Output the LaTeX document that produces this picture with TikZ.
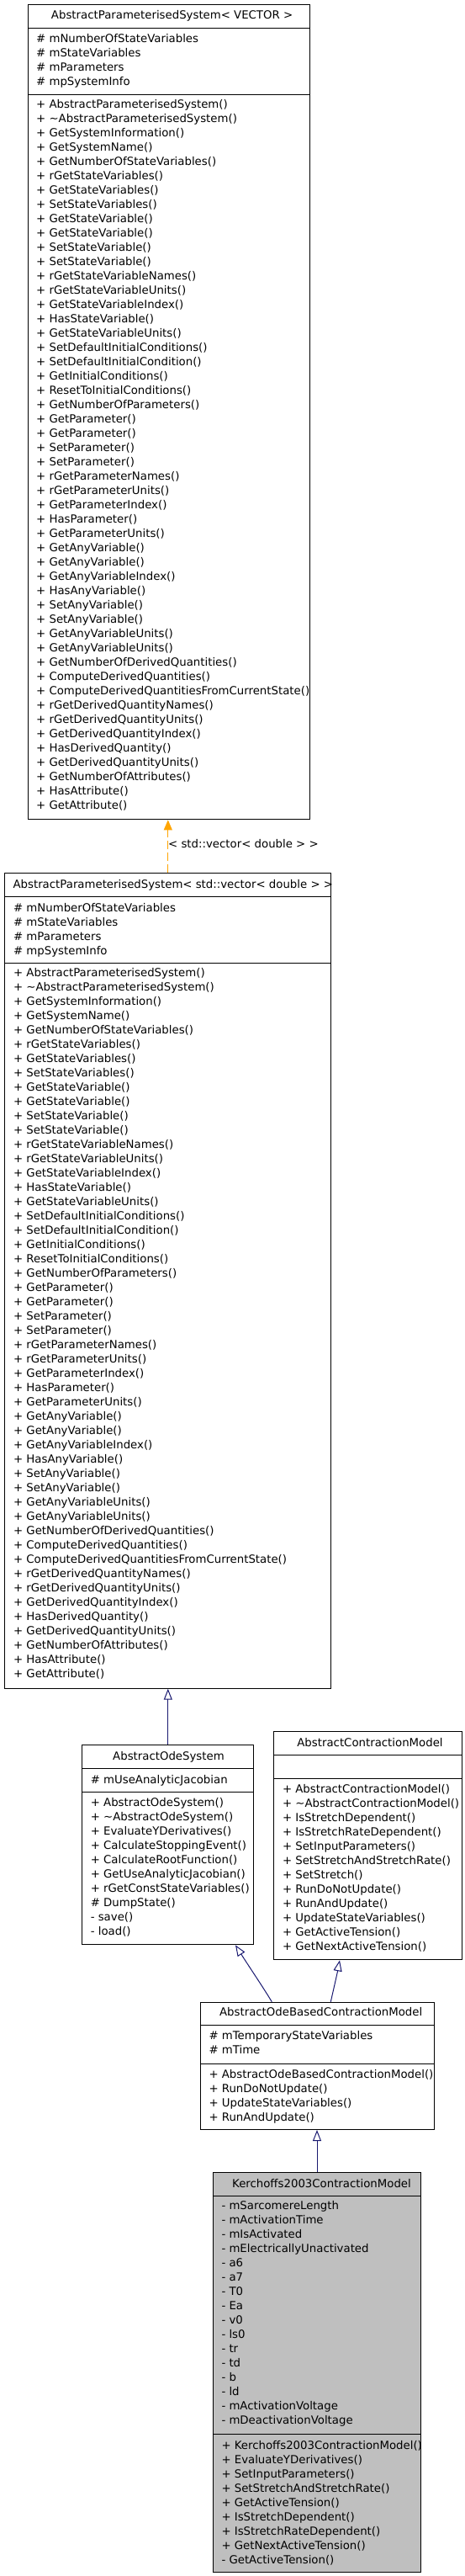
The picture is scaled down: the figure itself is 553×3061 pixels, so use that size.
\documentclass[tikz,border=0pt]{standalone}
\usepackage{fontspec}
\setmainfont{DejaVu Sans}
\usetikzlibrary{arrows.meta,calc}
\definecolor{inhblue}{RGB}{25,25,112}
\definecolor{tmplorange}{RGB}{255,165,0}
\definecolor{leafgray}{RGB}{191,191,191}
\newcommand{\umlfont}{\fontsize{13.3}{17}\selectfont}
\def\apsattrs{\# mNumberOfStateVariables,\# mStateVariables,\# mParameters,\# mpSystemInfo}
\def\apsmethods{+ AbstractParameterisedSystem(),+ \textasciitilde AbstractParameterisedSystem(),+ GetSystemInformation(),+ GetSystemName(),+ GetNumberOfStateVariables(),+ rGetStateVariables(),+ GetStateVariables(),+ SetStateVariables(),+ GetStateVariable(),+ GetStateVariable(),+ SetStateVariable(),+ SetStateVariable(),+ rGetStateVariableNames(),+ rGetStateVariableUnits(),+ GetStateVariableIndex(),+ HasStateVariable(),+ GetStateVariableUnits(),+ SetDefaultInitialConditions(),+ SetDefaultInitialCondition(),+ GetInitialConditions(),+ ResetToInitialConditions(),+ GetNumberOfParameters(),+ GetParameter(),+ GetParameter(),+ SetParameter(),+ SetParameter(),+ rGetParameterNames(),+ rGetParameterUnits(),+ GetParameterIndex(),+ HasParameter(),+ GetParameterUnits(),+ GetAnyVariable(),+ GetAnyVariable(),+ GetAnyVariableIndex(),+ HasAnyVariable(),+ SetAnyVariable(),+ SetAnyVariable(),+ GetAnyVariableUnits(),+ GetAnyVariableUnits(),+ GetNumberOfDerivedQuantities(),+ ComputeDerivedQuantities(),+ ComputeDerivedQuantitiesFromCurrentState(),+ rGetDerivedQuantityNames(),+ rGetDerivedQuantityUnits(),+ GetDerivedQuantityIndex(),+ HasDerivedQuantity(),+ GetDerivedQuantityUnits(),+ GetNumberOfAttributes(),+ HasAttribute(),+ GetAttribute()}
\def\aosmethods{+ AbstractOdeSystem(),+ \textasciitilde AbstractOdeSystem(),+ EvaluateYDerivatives(),+ CalculateStoppingEvent(),+ CalculateRootFunction(),+ GetUseAnalyticJacobian(),+ rGetConstStateVariables(),\# DumpState(),- save(),- load()}
\def\acmmethods{+ AbstractContractionModel(),+ \textasciitilde AbstractContractionModel(),+ IsStretchDependent(),+ IsStretchRateDependent(),+ SetInputParameters(),+ SetStretchAndStretchRate(),+ SetStretch(),+ RunDoNotUpdate(),+ RunAndUpdate(),+ UpdateStateVariables(),+ GetActiveTension(),+ GetNextActiveTension()}
\def\obcmattrs{\# mTemporaryStateVariables,\# mTime}
\def\obcmmethods{+ AbstractOdeBasedContractionModel(),+ RunDoNotUpdate(),+ UpdateStateVariables(),+ RunAndUpdate()}
\def\kattrs{- mSarcomereLength,- mActivationTime,- mIsActivated,- mElectricallyUnactivated,- a6,- a7,- T0,- Ea,- v0,- ls0,- tr,- td,- b,- ld,- mActivationVoltage,- mDeactivationVoltage}
\def\kmethods{+ Kerchoffs2003ContractionModel(),+ EvaluateYDerivatives(),+ SetInputParameters(),+ SetStretchAndStretchRate(),+ GetActiveTension(),+ IsStretchDependent(),+ IsStretchRateDependent(),+ GetNextActiveTension(),- GetActiveTension()}
\begin{document}
\begin{tikzpicture}[x=1pt,y=-1pt,
  boxframe/.style={draw=black, line width=1pt, inner sep=0pt, anchor=north west},
  txt/.style={anchor=base west, inner sep=0pt, font=\umlfont},
  ttl/.style={anchor=base, inner sep=0pt, font=\umlfont},
  sepline/.style={draw=black, line width=1pt},
  inh/.style={draw=inhblue, line width=1pt, -{Triangle[open, length=13pt, width=10pt]}},
  tmpl/.style={draw=tmplorange, line width=1pt, dash pattern=on 10pt off 4pt, -{Triangle[length=12pt, width=10pt, fill=tmplorange]}}]
\useasboundingbox (0,0) rectangle (553,3061);

% ---- AbstractParameterisedSystem< VECTOR >
\node[boxframe, minimum width=335pt, minimum height=968pt] (aps) at (32.5,5.3) {};
\draw[sepline] ([yshift=-28pt]aps.north west) -- ([yshift=-28pt]aps.north east);
\draw[sepline] ([yshift=-107.4pt]aps.north west) -- ([yshift=-107.4pt]aps.north east);
\node[ttl] (apsT) at (204.6,22.5) {AbstractParameterisedSystem< VECTOR >};
\foreach \t [count=\i from 0] in \apsattrs {\node[txt] (apsA\i) at (43,50.5+17*\i) {\t};}
\foreach \t [count=\i from 0] in \apsmethods {\node[txt] (apsM\i) at (43,128.6+17*\i) {\t};}

% ---- AbstractParameterisedSystem< std::vector< double > >
\node[boxframe, minimum width=388pt, minimum height=968.4pt] (aps2) at (5.3,1037.3) {};
\draw[sepline] ([yshift=-28pt]aps2.north west) -- ([yshift=-28pt]aps2.north east);
\draw[sepline] ([yshift=-107pt]aps2.north west) -- ([yshift=-107pt]aps2.north east);
\node[ttl] (aps2T) at (205.8,1055) {AbstractParameterisedSystem< std::vector< double > >};
\foreach \t [count=\i from 0] in \apsattrs {\node[txt] (aps2A\i) at (15.9,1083+17*\i) {\t};}
\foreach \t [count=\i from 0] in \apsmethods {\node[txt] (aps2M\i) at (15.9,1160.6+17*\i) {\t};}

% ---- AbstractOdeSystem
\node[boxframe, minimum width=203.8pt, minimum height=237pt] (aos) at (97.4,2073.3) {};
\draw[sepline] ([yshift=-28pt]aos.north west) -- ([yshift=-28pt]aos.north east);
\draw[sepline] ([yshift=-56pt]aos.north west) -- ([yshift=-56pt]aos.north east);
\node[ttl] (aosT) at (200.5,2091) {AbstractOdeSystem};
\node[txt] (aosA0) at (107.6,2119) {\# mUseAnalyticJacobian};
\foreach \t [count=\i from 0] in \aosmethods {\node[txt] (aosM\i) at (107.6,2146.6+17*\i) {\t};}

% ---- AbstractContractionModel
\node[boxframe, minimum width=224pt, minimum height=271pt] (acm) at (324.5,2057.3) {};
\draw[sepline] ([yshift=-28pt]acm.north west) -- ([yshift=-28pt]acm.north east);
\draw[sepline] ([yshift=-56pt]acm.north west) -- ([yshift=-56pt]acm.north east);
\node[ttl] (acmT) at (440,2075) {AbstractContractionModel};
\foreach \t [count=\i from 0] in \acmmethods {\node[txt] (acmM\i) at (335.8,2130.6+17*\i) {\t};}

% ---- AbstractOdeBasedContractionModel
\node[boxframe, minimum width=278.3pt, minimum height=151.3pt] (obcm) at (237.7,2378.7) {};
\draw[sepline] ([yshift=-28pt]obcm.north west) -- ([yshift=-28pt]obcm.north east);
\draw[sepline] ([yshift=-74pt]obcm.north west) -- ([yshift=-74pt]obcm.north east);
\node[ttl] (obcmT) at (381.7,2395.3) {AbstractOdeBasedContractionModel};
\foreach \t [count=\i from 0] in \obcmattrs {\node[txt] (obcmA\i) at (248.3,2423.3+17*\i) {\t};}
\foreach \t [count=\i from 0] in \obcmmethods {\node[txt] (obcmM\i) at (248.3,2469.3+17.2*\i) {\t};}

% ---- Kerchoffs2003ContractionModel
\node[boxframe, fill=leafgray, minimum width=247.6pt, minimum height=474.7pt] (k) at (252.7,2581.3) {};
\draw[sepline] ([yshift=-28pt]k.north west) -- ([yshift=-28pt]k.north east);
\draw[sepline] ([yshift=-311pt]k.north west) -- ([yshift=-311pt]k.north east);
\node[ttl] (kT) at (382.5,2599) {Kerchoffs2003ContractionModel};
\foreach \t [count=\i from 0] in \kattrs {\node[txt] (kA\i) at (263.3,2625.6+17*\i) {\t};}
\foreach \t [count=\i from 0] in \kmethods {\node[txt] (kM\i) at (263.3,2910+17*\i) {\t};}

% ---- connectors
\draw[tmpl] (aps2.north) -- (aps2.north |- aps.south);
\node[txt] (tmplLbl) at (200,1007.6) {< std::vector< double > >};
\draw[inh] (aos.north) -- (aos.north |- aps2.south);
\draw[inh] ([xshift=85.6pt]obcm.north west) .. controls (312,2360) and (295,2335) .. ([xshift=182.6pt]aos.south west);
\draw[inh] ([xshift=155.6pt]obcm.north west) .. controls (398,2358) and (401,2345) .. ([xshift=79.5pt]acm.south west);
\draw[inh] (k.north) -- (k.north |- obcm.south);
\end{tikzpicture}
\end{document}
